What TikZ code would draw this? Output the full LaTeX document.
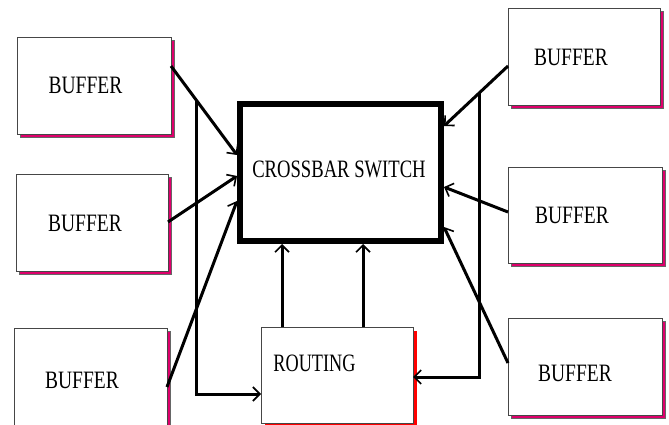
\documentclass[tikz,border=0pt]{standalone}
\usepackage{fontspec}
\setmainfont{Liberation Serif}
\usetikzlibrary{arrows.meta,calc,shadows}
\definecolor{pinkc}{RGB}{222,0,108}
\definecolor{redc}{RGB}{255,0,0}
\definecolor{edgec}{RGB}{70,70,70}
\tikzset{
  box/.style={draw=edgec, line width=0.9pt, fill=white, inner sep=0pt, outer sep=0pt},
  bufbox/.style={box, general shadow={fill=pinkc, draw=black!60, line width=0.5pt, shadow xshift=3.5pt, shadow yshift=-3.5pt}},
  routebox/.style={box, general shadow={fill=redc, shadow xshift=3.5pt, shadow yshift=-3.5pt}},
  xbar/.style={draw=black, line width=6pt, fill=white, inner sep=0pt},
  lbl/.style={inner sep=0pt, font=\fontsize{25}{25}\selectfont},
  conn/.style={line width=3pt, line cap=butt},
  arr/.style={conn, -{Straight Barb[length=7pt,width=14pt,line width=1.6pt]}}
}
\begin{document}
\begin{tikzpicture}[x=1pt,y=-1pt]
\useasboundingbox (0,0) rectangle (669,425);
% buffers
\node[bufbox, minimum width=154pt, minimum height=97pt] (tl) at (94,85.5) {};
\node[bufbox, minimum width=152pt, minimum height=97pt] (ml) at (92,222.5) {};
\node[bufbox, minimum width=153pt, minimum height=97pt] (bl) at (90.5,376.5) {};
\node[bufbox, minimum width=152pt, minimum height=97pt] (tr) at (584,56.5) {};
\node[bufbox, minimum width=154pt, minimum height=96pt] (mr) at (585,215) {};
\node[bufbox, minimum width=154pt, minimum height=97pt] (br) at (585,366.5) {};
% routing
\node[routebox, minimum width=152pt, minimum height=96pt] (rt) at (337,375) {};
% crossbar
\node[xbar, minimum width=201pt, minimum height=137pt] (cb) at (340.5,172.5) {};
% labels
\node[lbl] (tlt) at (85.5,85) {\scalebox{0.78}[1]{BUFFER}};
\node[lbl] (mlt) at (85,223) {\scalebox{0.78}[1]{BUFFER}};
\node[lbl] (blt) at (82,380) {\scalebox{0.78}[1]{BUFFER}};
\node[lbl] (trt) at (571,57) {\scalebox{0.78}[1]{BUFFER}};
\node[lbl] (mrt) at (572,215) {\scalebox{0.78}[1]{BUFFER}};
\node[lbl] (brt) at (575,373) {\scalebox{0.78}[1]{BUFFER}};
\node[lbl] (cbt) at (339,169) {\scalebox{0.745}[1]{CROSSBAR SWITCH}};
\node[lbl] (rtt) at (314.5,363) {\scalebox{0.73}[1]{ROUTING}};
% connector end points
\coordinate (s1) at ($(tl.north east)+(0,29)$);
\coordinate (e1) at ($(cb.north west)+(0,54)$);
\coordinate (s2) at ($(ml.north east)+(0,48)$);
\coordinate (e2) at ($(cb.north west)+(0,75)$);
\coordinate (s3) at ($(bl.north east)+(0,59)$);
\coordinate (e3) at ($(cb.north west)+(0,100)$);
\coordinate (s4) at ($(tr.north west)+(0,58)$);
\coordinate (e4) at ($(cb.north east)+(0,25)$);
\coordinate (s5) at ($(mr.north west)+(0,45)$);
\coordinate (e5) at ($(cb.north east)+(0,86)$);
\coordinate (s6) at ($(br.north west)+(0,45)$);
\coordinate (e6) at ($(cb.north east)+(0,126)$);
\coordinate (jl) at ($(s1)!0.38!(e1)$);
\coordinate (jr) at ($(s4)!0.45!(e4)$);
\coordinate (rl) at ($(rt.north west)+(0,67)$);
\coordinate (rr) at ($(rt.north east)+(0,50)$);
\coordinate (u1) at ($(rt.north west)+(21,0)$);
\coordinate (u2) at ($(rt.north west)+(102,0)$);
% connectors
\draw[arr] (s1) -- (e1);
\draw[arr] (s2) -- (e2);
\draw[arr] (s3) -- (e3);
\draw[arr] (s4) -- (e4);
\draw[arr] (s5) -- (e5);
\draw[arr] (s6) -- (e6);
\draw[arr] (u1) -- (u1 |- cb.south);
\draw[arr] (u2) -- (u2 |- cb.south);
\draw[arr] (jl) |- (rl);
\draw[arr] (jr) |- (rr);
\end{tikzpicture}
\end{document}
